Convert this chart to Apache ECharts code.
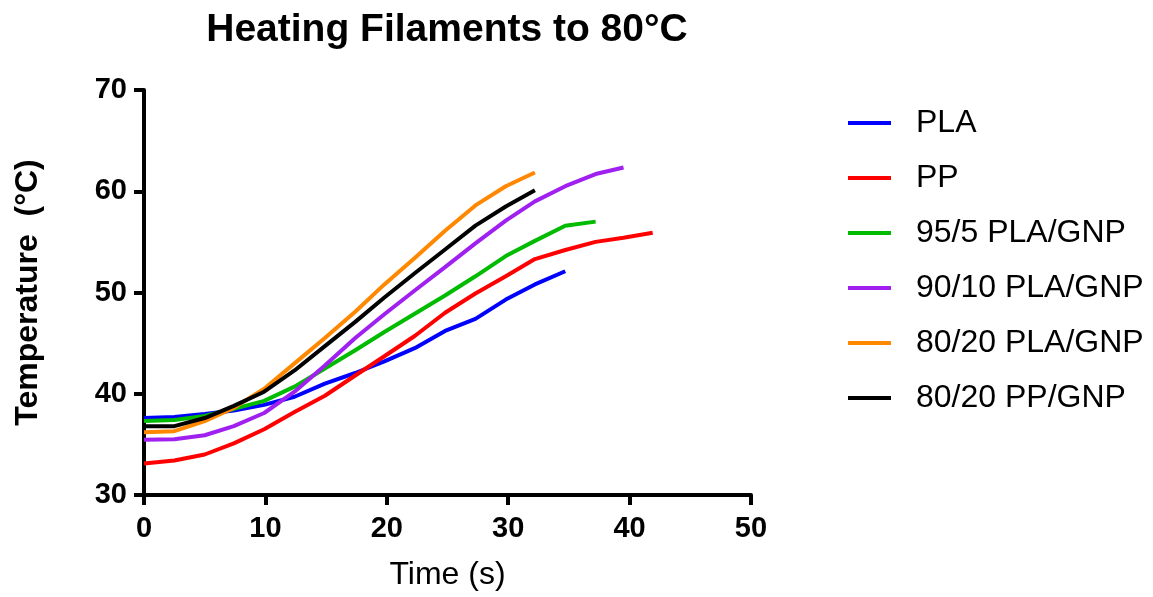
<!DOCTYPE html>
<html>
<head>
<meta charset="utf-8">
<script src="https://cdn.jsdelivr.net/npm/echarts@6/dist/echarts.min.js"></script>
<style>
  html, body { margin: 0; padding: 0; background: #fff; }
  #a { width: 1153px; height: 597px; }
</style>
</head>
<body>
<div id="a"></div>
<script>
// time stamps (s)
var times = [0, 2.5, 5.0, 7.4, 9.9, 12.4, 14.9, 17.4, 19.8, 22.3, 24.8, 27.3, 29.8, 32.2, 34.7, 37.2, 39.5, 41.9];

// temperature readings (°C) per filament
var pla      = [37.6, 37.7, 38.0, 38.35, 38.9, 39.7, 41.0, 42.05, 43.2, 44.5, 46.2, 47.4, 49.3, 50.8, 52.1];
var pp       = [33.1, 33.4, 34.0, 35.1, 36.5, 38.2, 39.8, 41.8, 43.7, 45.7, 48.0, 49.9, 51.6, 53.3, 54.2, 55.0, 55.4, 55.9];
var pla95    = [37.3, 37.4, 37.8, 38.5, 39.3, 40.7, 42.5, 44.3, 46.1, 47.9, 49.7, 51.6, 53.6, 55.1, 56.6, 57.0];
var pla90    = [35.45, 35.5, 35.9, 36.8, 38.1, 40.2, 42.8, 45.5, 47.85, 50.2, 52.5, 54.85, 57.1, 59.0, 60.5, 61.7, 62.35];
var pla80    = [36.2, 36.3, 37.3, 38.6, 40.5, 43.0, 45.5, 48.1, 50.8, 53.4, 56.1, 58.6, 60.5, 61.85];
var pp80     = [36.8, 36.8, 37.6, 38.8, 40.2, 42.3, 44.7, 47.1, 49.5, 51.9, 54.25, 56.6, 58.5, 60.1];

var names  = ['PLA', 'PP', '95/5 PLA/GNP', '90/10 PLA/GNP', '80/20 PLA/GNP', '80/20 PP/GNP'];
var values = [pla, pp, pla95, pla90, pla80, pp80];
var colors = ['#0000ff', '#ff0000', '#00bb00', '#a020f0', '#ff8800', '#000000'];

var xTicks = [0, 50, 10];   // min, max, interval
var yTicks = [30, 70, 10];

var font = '"Liberation Sans", Arial, sans-serif';

var myechart = echarts.init(document.getElementById('a'));

var series = values.map(function (vals, k) {
    return {
        name: names[k],
        type: 'line',
        showSymbol: false,
        symbol: 'none',
        lineStyle: { width: 4, color: colors[k] },
        itemStyle: { color: colors[k] },
        data: vals.map(function (v, i) { return [times[i], v]; })
    };
});

option = {
    animation: false,
    backgroundColor: '#fff',
    title: {
        text: 'Heating Filaments to 80°C',
        left: 442,
        textAlign: 'center',
        top: 6,
        textStyle: { fontFamily: font, fontSize: 39, fontWeight: 'bold', color: '#000' }
    },
    legend: {
        orient: 'vertical',
        left: 843,
        top: 102,
        icon: 'rect',
        itemWidth: 43,
        itemHeight: 4,
        itemGap: 23,
        data: names,
        textStyle: { fontFamily: font, fontSize: 32, lineHeight: 32, color: '#000', padding: [0, 0, 0, 20] }
    },
    grid: { left: 144, right: 402, top: 90, bottom: 102, containLabel: false },
    xAxis: {
        type: 'value',
        min: xTicks[0], max: xTicks[1], interval: xTicks[2],
        name: 'Time (s)',
        nameLocation: 'middle',
        nameGap: 64,
        nameTextStyle: { fontFamily: font, fontSize: 32, color: '#000' },
        axisLine: { show: true, lineStyle: { color: '#000', width: 4 } },
        axisTick: { show: true, length: 10, lineStyle: { color: '#000', width: 4 } },
        axisLabel: { margin: 19, fontFamily: font, fontSize: 29, fontWeight: 'bold', color: '#000' },
        splitLine: { show: false }
    },
    yAxis: {
        type: 'value',
        min: yTicks[0], max: yTicks[1], interval: yTicks[2],
        name: 'Temperature  (°C)',
        nameLocation: 'middle',
        nameGap: 100,
        nameTextStyle: { fontFamily: font, fontSize: 32, fontWeight: 'bold', color: '#000' },
        axisLine: { show: true, lineStyle: { color: '#000', width: 4 } },
        axisTick: { show: true, length: 10, lineStyle: { color: '#000', width: 4 } },
        axisLabel: { margin: 17, fontFamily: font, fontSize: 29, fontWeight: 'bold', color: '#000' },
        splitLine: { show: false }
    },
    series: series
};
myechart.setOption(option);
</script>
</body>
</html>
